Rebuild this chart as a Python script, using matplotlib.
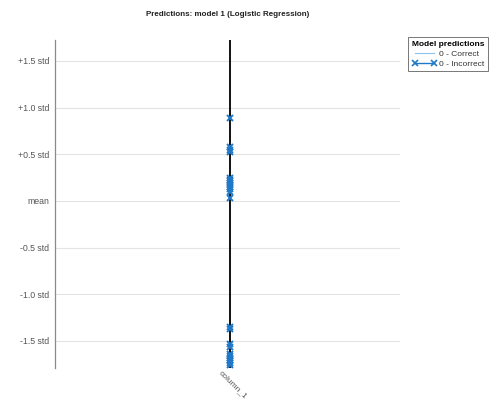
import matplotlib
matplotlib.use("Agg")
import matplotlib.pyplot as plt
import matplotlib.transforms as mtransforms
from matplotlib.lines import Line2D

plt.rcParams['font.family'] = ['Liberation Sans', 'DejaVu Sans']

# Standardised values (in std units) of column_1 for incorrectly predicted rows
incorrect_vals = [0.89, 0.58, 0.55, 0.52, 0.25, 0.23, 0.21, 0.19, 0.17, 0.15,
                  0.13, 0.10, 0.03, -1.35, -1.37, -1.53, -1.56, -1.64, -1.66,
                  -1.68, -1.70, -1.72, -1.74, -1.76]
columns = ['column_1']
tick_vals = [1.5, 1.0, 0.5, 0.0, -0.5, -1.0, -1.5]
tick_labels = ['+1.5 std', '+1.0 std', '+0.5 std', 'mean', '-0.5 std', '-1.0 std', '-1.5 std']

blue = '#1f78c8'
light_blue = '#8cc4ee'

fig = plt.figure(figsize=(4.97, 4.01), dpi=100)
ax = fig.add_axes([55 / 497, 33 / 401, 345 / 497, 328 / 401])

ax.set_xlim(-1.0, 0.97)
ax.set_ylim(-1.79, 1.725)

# coordinate axis for the single column
for i, _ in enumerate(columns):
    ax.axvline(i, color='#111111', lw=1.4, zorder=3)
    ax.plot([i] * len(incorrect_vals), incorrect_vals, linestyle='none',
            marker='x', ms=5, mew=1.4, color=blue, zorder=4)

ax.set_yticks(tick_vals)
ax.set_yticklabels(tick_labels)
ax.set_xticks(range(len(columns)))
ax.set_xticklabels(columns, rotation=-45, ha='left', va='top', rotation_mode='anchor')
ax.tick_params(axis='y', length=0, labelsize=6.3, colors='#555555', pad=4)
ax.tick_params(axis='x', length=0, labelsize=6, colors='#555555', pad=1)
shift = mtransforms.ScaledTranslation(-8 / 100, 0, fig.dpi_scale_trans)
for lbl in ax.get_xticklabels():
    lbl.set_transform(lbl.get_transform() + shift)

ax.grid(axis='y', color='#e3e3e3', lw=0.8)
ax.set_axisbelow(True)
for s in ['top', 'right', 'bottom']:
    ax.spines[s].set_visible(False)
ax.spines['left'].set_color('#8a8a8a')
ax.spines['left'].set_linewidth(0.9)

ax.set_title('Predictions: model 1 (Logistic Regression)', fontsize=5.8,
             fontweight='bold', color='#222222', pad=17)

handles = [
    Line2D([], [], color=light_blue, lw=0.8),
    Line2D([], [], color=blue, lw=1.0, marker='x', ms=4, mew=1.2),
]
leg = fig.legend(handles, ['0 - Correct', '0 - Incorrect'],
                 title='Model predictions', loc='upper left',
                 bbox_to_anchor=(408 / 497, 1 - 37 / 401), numpoints=2,
                 fontsize=6, title_fontsize=6, frameon=True, fancybox=False,
                 handlelength=2.9, handletextpad=0.3, borderpad=0.45,
                 labelspacing=0.25, borderaxespad=0)
leg.get_title().set_fontweight('bold')
leg.get_frame().set_edgecolor('#555555')
leg.get_frame().set_linewidth(0.7)
for t in leg.get_texts():
    t.set_color('#333333')

fig.savefig('out.png', dpi=100)
